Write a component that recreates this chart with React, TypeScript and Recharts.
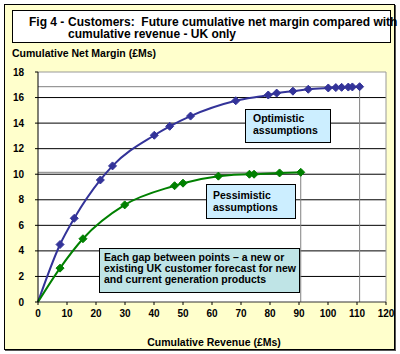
import {
    LineChart,
    Line,
    XAxis,
    YAxis,
    CartesianGrid,
    ReferenceLine,
} from "recharts";

const FONT = '"Liberation Sans", Arial, sans-serif';

// cumulative revenue (£Ms) and cumulative net margin (£Ms) per customer forecast point
const optimisticRevenue = [0, 7.6, 12.5, 21.5, 25.7, 40.1, 45.4, 52.6, 68.2, 79.4, 82.3, 87.9, 93.2, 100.1, 102.7, 104.7, 107, 108.4, 110.9];
const optimisticMargin = [0, 4.5, 6.55, 9.55, 10.65, 13.05, 13.75, 14.55, 15.75, 16.2, 16.35, 16.5, 16.65, 16.75, 16.78, 16.8, 16.82, 16.83, 16.85];

const pessimisticRevenue = [0, 7.6, 15.5, 29.9, 47.1, 50, 62.2, 72.9, 74.5, 83.3, 90.6];
const pessimisticMargin = [0, 2.65, 4.95, 7.6, 9.1, 9.3, 9.85, 10.0, 10.0, 10.1, 10.15];

const revenueTicks = [0, 10, 20, 30, 40, 50, 60, 70, 80, 90, 100, 110, 120];
const marginTicks = [0, 2, 4, 6, 8, 10, 12, 14, 16, 18];
const gridValues = [2, 4, 6, 8, 10, 12, 14, 16];

const optimisticData = optimisticRevenue.map((x, i) => ({ x, y: optimisticMargin[i] }));
const pessimisticData = pessimisticRevenue.map((x, i) => ({ x, y: pessimisticMargin[i] }));

const optEnd = optimisticData[optimisticData.length - 1];
const pesEnd = pessimisticData[pessimisticData.length - 1];

const Diamond = (color: string) => (props: any) => {
    const { cx, cy, index, payload } = props;
    if (payload && payload.x === 0) return <g key={index} />;
    return (
        <path
            key={index}
            d={`M${cx},${cy - 4}L${cx + 4},${cy}L${cx},${cy + 4}L${cx - 4},${cy}Z`}
            fill={color}
            stroke={color}
        />
    );
};

const tickStyle = { fontSize: 10, fontWeight: "bold", fill: "#000", fontFamily: FONT };

const boxText = {
    position: "absolute" as const,
    boxSizing: "border-box" as const,
    border: "1px solid #000",
    fontFamily: FONT,
    fontWeight: "bold" as const,
    fontSize: 10.5,
    color: "#000",
    whiteSpace: "nowrap" as const,
};

export default function App() {
    return (
        <div style={{ position: "absolute", left: 0, top: 0, width: 400, height: 354 }}>
            <div
                style={{
                    position: "absolute",
                    left: 4,
                    top: 4,
                    width: 391,
                    height: 346,
                    boxSizing: "border-box",
                    background: "#ffffcc",
                    border: "1px solid #000",
                    boxShadow: "1px 1px 0 #555",
                }}
            />
            <div
                style={{
                    position: "absolute",
                    left: 12,
                    top: 10,
                    width: 379,
                    height: 33,
                    boxSizing: "border-box",
                    background: "#fff",
                    border: "1px solid #000",
                }}
            />
            <div
                style={{
                    position: "absolute",
                    left: 29,
                    top: 17,
                    fontFamily: FONT,
                    fontWeight: "bold",
                    fontSize: 12,
                    lineHeight: "11.5px",
                    whiteSpace: "nowrap",
                }}
            >
                Fig 4 -
            </div>
            <div
                style={{
                    position: "absolute",
                    left: 68,
                    top: 17,
                    fontFamily: FONT,
                    fontWeight: "bold",
                    fontSize: 12,
                    lineHeight: "11.5px",
                    whiteSpace: "pre",
                }}
            >
                {"Customers:  Future cumulative net margin compared with\ncumulative revenue - UK only"}
            </div>
            <div
                style={{
                    position: "absolute",
                    left: 12,
                    top: 46.5,
                    fontFamily: FONT,
                    fontWeight: "bold",
                    fontSize: 10.5,
                    lineHeight: "12px",
                    whiteSpace: "nowrap",
                }}
            >
                Cumulative Net Margin (£Ms)
            </div>

            <div style={{ position: "absolute", left: 0, top: 0 }}>
                <LineChart width={400} height={354} margin={{ top: 72, right: 14, bottom: 32, left: 8 }}>
                    <CartesianGrid
                        vertical={false}
                        horizontalValues={gridValues}
                        stroke="#000"
                        fill="#fff"
                        fillOpacity={1}
                    />
                    <XAxis
                        type="number"
                        dataKey="x"
                        domain={[0, 120]}
                        ticks={revenueTicks}
                        interval={0}
                        height={20}
                        tick={tickStyle}
                        tickSize={3}
                        tickMargin={5}
                        tickLine={{ stroke: "#000" }}
                        axisLine={{ stroke: "#333" }}
                        label={{
                            value: "Cumulative Revenue (£Ms)",
                            position: "bottom",
                            offset: 17,
                            dx: 2,
                            style: { fontSize: 10.5, fontWeight: "bold", fill: "#000", fontFamily: FONT },
                        }}
                    />
                    <YAxis
                        type="number"
                        dataKey="y"
                        domain={[0, 18]}
                        ticks={marginTicks}
                        interval={0}
                        width={30}
                        tick={tickStyle}
                        tickSize={3}
                        tickMargin={11}
                        tickLine={{ stroke: "#000" }}
                        axisLine={{ stroke: "#000" }}
                    />
                    <ReferenceLine y={18} stroke="#999" />
                    <ReferenceLine x={120} stroke="#999" />
                    <ReferenceLine segment={[{ x: 0, y: optEnd.y }, { x: optEnd.x, y: optEnd.y }]} stroke="#808080" />
                    <ReferenceLine segment={[{ x: optEnd.x, y: 0 }, { x: optEnd.x, y: optEnd.y }]} stroke="#808080" />
                    <ReferenceLine segment={[{ x: 0, y: pesEnd.y }, { x: pesEnd.x, y: pesEnd.y }]} stroke="#808080" />
                    <ReferenceLine segment={[{ x: pesEnd.x, y: 0 }, { x: pesEnd.x, y: pesEnd.y }]} stroke="#808080" />
                    <Line
                        data={optimisticData}
                        dataKey="y"
                        type="monotone"
                        stroke="#333399"
                        strokeWidth={2}
                        dot={Diamond("#333399")}
                        isAnimationActive={false}
                    />
                    <Line
                        data={pessimisticData}
                        dataKey="y"
                        type="monotone"
                        stroke="#008000"
                        strokeWidth={2}
                        dot={Diamond("#008000")}
                        isAnimationActive={false}
                    />
                </LineChart>
            </div>

            <div
                style={{
                    ...boxText,
                    left: 245,
                    top: 109,
                    width: 86,
                    height: 34,
                    background: "#cceeff",
                    padding: "2px 0 0 7px",
                    lineHeight: "12px",
                }}
            >
                Optimistic
                <br />
                assumptions
            </div>
            <div
                style={{
                    ...boxText,
                    left: 206,
                    top: 184,
                    width: 90,
                    height: 35,
                    background: "#cceeff",
                    padding: "4px 0 0 6px",
                    lineHeight: "12px",
                }}
            >
                Pessimistic
                <br />
                assumptions
            </div>
            <div
                style={{
                    ...boxText,
                    left: 99,
                    top: 248,
                    width: 201,
                    height: 45,
                    background: "#bfe4e6",
                    padding: "2.5px 0 0 4px",
                    lineHeight: "11px",
                }}
            >
                Each gap between points – a new or
                <br />
                existing UK customer forecast for new
                <br />
                and current generation products
            </div>
        </div>
    );
}
